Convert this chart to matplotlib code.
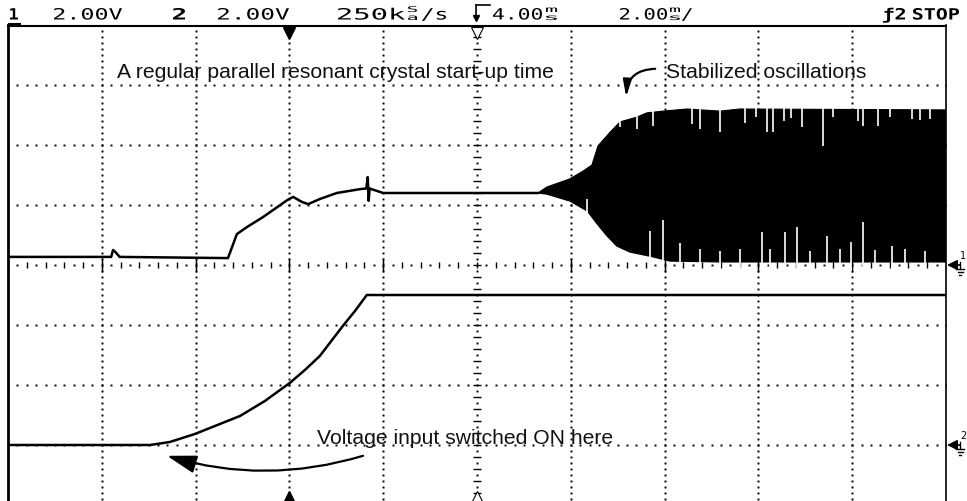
import numpy as np
import matplotlib.pyplot as plt
from matplotlib.lines import Line2D
from matplotlib.textpath import TextPath
from matplotlib.patches import PathPatch
from matplotlib.font_manager import FontProperties
from matplotlib.transforms import Affine2D, IdentityTransform

# channel 1 (crystal output), time in ms, volts above ch1 ground
ch1_t = [-6, -3.80, -3.76, -3.72, -3.62, -1.31, -1.12, -0.90, -0.56, -0.03,
         0.08, 0.27, 0.40, 0.65, 1.01, 1.51, 1.64, 1.67, 1.69, 1.71, 2.0, 5.3]
ch1_v = [0.27, 0.27, 0.50, 0.45, 0.27, 0.23, 1.03, 1.27, 1.60, 2.18,
         2.27, 2.10, 2.03, 2.20, 2.40, 2.53, 2.55, 2.93, 2.14, 2.55, 2.40, 2.40]

# oscillation envelope of channel 1
osc_top_t = [5.3, 5.49, 5.98, 6.26, 6.45, 6.58, 6.84, 7.05, 7.41, 7.62, 7.97, 8.48, 9.18, 9.61, 14.0]
osc_top_v = [2.40, 2.60, 2.87, 3.13, 3.33, 3.97, 4.43, 4.77, 4.93, 5.07, 5.13, 5.20, 5.13, 5.20, 5.17]
osc_bot_t = [5.3, 5.49, 5.98, 6.35, 6.56, 6.77, 6.98, 7.26, 7.75, 8.11, 9.18, 14.0]
osc_bot_v = [2.40, 2.36, 2.13, 1.80, 1.37, 0.97, 0.63, 0.43, 0.27, 0.13, 0.10, 0.10]

# white gaps reaching into the envelope
top_spike_t = [7.05, 7.41, 7.75, 8.58, 8.75, 9.18, 9.71, 9.95, 10.18, 10.31, 10.55, 10.70,
               10.93, 11.38, 11.60, 12.12, 12.23, 12.55, 12.80, 13.27, 13.45, 13.66]
top_spike_v = [4.60, 4.53, 4.63, 4.70, 4.53, 4.43, 4.73, 4.95, 4.43, 4.43, 4.80, 4.90,
               4.60, 3.97, 4.95, 4.80, 4.63, 4.63, 4.95, 4.87, 4.83, 4.87]
bot_spike_t = [6.35, 7.69, 7.97, 8.33, 8.75, 9.18, 9.61, 10.08, 10.25, 10.57, 10.82,
               11.10, 11.46, 11.74, 11.97, 12.23, 12.49, 12.85, 13.13, 13.55]
bot_spike_v = [2.20, 1.13, 1.50, 0.73, 0.53, 0.47, 0.53, 1.10, 0.53, 1.10, 1.27,
               0.47, 0.97, 0.53, 0.77, 1.43, 0.50, 0.63, 0.53, 0.47]

# channel 2 (supply voltage), volts above ch2 ground
ch2_t = [-6, -2.97, -2.55, -2.01, -1.05, -0.52, 0.01, 0.33, 0.65, 1.14, 1.40, 1.65, 14]
ch2_v = [0, 0, 0.10, 0.37, 0.97, 1.47, 2.07, 2.50, 2.97, 3.97, 4.47, 5.00, 5.00]

VDIV = 2.0      # volts / div
CH2_OFF = -3.0  # ch2 ground in divisions

W, H = 967, 502
fig = plt.figure(figsize=(W / 100, H / 100), dpi=100)
ax = fig.add_axes([8 / W, -4 / H, 938 / W, 480 / H])
ax.set_xlim(-6, 14)
ax.set_ylim(-4, 4)
ax.axis('off')


def fp(x, y):
    # image pixel -> figure fraction
    return x / W, 1 - y / H


# dotted graticule
xs = np.arange(-6, 14.01, 0.2)
for gy in [-3, -2, -1, 1, 2, 3]:
    ax.plot(xs, np.full_like(xs, gy), ls='none', marker='s', ms=1.4, mew=0, color='k')
ys = np.arange(-4, 4.01, 0.1)
for gx in [-4, -2, 0, 2, 6, 8, 10, 12]:
    ax.plot(np.full_like(ys, gx), ys, ls='none', marker='s', ms=1.4, mew=0, color='k')

# centre axes with ticks
tk = np.arange(-6, 14.01, 0.4)
ax.vlines(tk, -0.045, 0.045, color='k', lw=1)
ax.plot(tk[:-1] + 0.2, np.zeros(len(tk) - 1), ls='none', marker='s', ms=1.4, mew=0, color='k')
ax.vlines([-4, -2, 0, 2, 6, 8, 10, 12], -0.12, 0.12, color='k', lw=1)
tv = np.arange(-4, 4.01, 0.2)
ax.hlines(tv, 4 - 0.09, 4 + 0.09, color='k', lw=1)
ax.plot(np.full(len(tv) - 1, 4), tv[:-1] + 0.1, ls='none', marker='s', ms=1.4, mew=0, color='k')

# border
ax.plot([-6, -6], [-4, 4], color='k', lw=2, clip_on=False)
ax.plot([14, 14], [-4, 4], color='k', lw=1.2, clip_on=False)
ax.plot([-6, 14], [3.98, 3.98], color='k', lw=1.5, clip_on=False)

# trigger / delay markers
ax.plot(0, 3.86, marker='v', ms=8, color='k', clip_on=False)
ax.plot(0, -3.86, marker='^', ms=8, color='k', clip_on=False)
ax.plot(4, 3.86, marker='v', ms=8, mfc='white', mec='k', mew=0.8, clip_on=False)
ax.plot(4, -3.86, marker='^', ms=8, mfc='white', mec='k', mew=0.8, clip_on=False)

# traces
ax.plot(ch1_t, np.array(ch1_v) / VDIV, color='k', lw=1.8)
ax.fill(np.r_[osc_top_t, osc_bot_t[::-1]],
        np.r_[osc_top_v, osc_bot_v[::-1]] / VDIV, color='k', lw=0.8)
ax.vlines(top_spike_t, np.array(top_spike_v) / VDIV, 5.5 / VDIV, color='white', lw=1.2)
ax.vlines(bot_spike_t, -0.2 / VDIV, np.array(bot_spike_v) / VDIV, color='white', lw=1.2)
ax.plot(ch2_t, np.array(ch2_v) / VDIV + CH2_OFF, color='k', lw=1.8)

# annotations
tf = dict(family='Liberation Sans', fontsize=15.2, color='#111111', va='center')
fig.text(*fp(335, 73), 'A regular parallel resonant crystal start-up time', ha='center', **tf)
fig.text(*fp(766, 72), 'Stabilized oscillations', ha='center', **tf)
fig.text(*fp(465, 439), 'Voltage input switched ON here', ha='center', **tf)

ax.annotate('', xy=(7.18, 2.80), xytext=(7.80, 3.27),
            arrowprops=dict(arrowstyle='-|>,head_length=1.0,head_width=0.25', mutation_scale=10,
                            connectionstyle='arc3,rad=0.45', color='k', lw=1.6,
                            shrinkA=0, shrinkB=0))
ax.annotate('', xy=(-2.61, -3.18), xytext=(1.57, -3.18),
            arrowprops=dict(arrowstyle='-|>,head_length=1.8,head_width=0.55', mutation_scale=10,
                            connectionstyle='arc3,rad=-0.15', color='k', lw=1.6,
                            shrinkA=0, shrinkB=0))


# header line: wide mono glyphs like the scope's pixel font
def htext(s, x0, x1, base=20.5, size=15.5, bold=False):
    prop = FontProperties(family='DejaVu Sans Mono', weight='bold' if bold else 'normal')
    tp = TextPath((0, 0), s, size=size, prop=prop)
    ext = tp.get_extents()
    sx = (x1 - x0) / ext.width
    tr = Affine2D().translate(-ext.x0, 0).scale(sx, 1).translate(x0, H - base)
    fig.add_artist(PathPatch(tr.transform_path(tp), fc='k', lw=0, transform=IdentityTransform()))


def stacked(a, b, x0, x1):
    htext(a, x0, x1, base=13, size=8)
    htext(b, x0, x1, base=21, size=8)


htext('1', 10, 18, bold=True)
fig.add_artist(Line2D([9 / W, 20 / W], [1 - 24.5 / H] * 2, color='k', lw=1.5))
htext('2.00V', 54, 122)
htext('2', 173, 185, bold=True)
htext('2.00V', 218, 289)
htext('250k', 338, 405)
stacked('S', 'a', 408, 417)
htext('/s', 422, 446)
fig.add_artist(Line2D([476 / W, 476 / W], [1 - 6 / H, 1 - 18 / H], color='k', lw=1.2))
fig.add_artist(Line2D([476 / W, 490 / W], [1 - 6 / H] * 2, color='k', lw=1.2))
fig.add_artist(Line2D([476 / W], [1 - 19 / H], marker='v', ms=4, color='k'))
htext('4.00', 493, 542)
stacked('m', 's', 546, 557)
htext('2.00', 620, 667)
stacked('m', 's', 670, 680)
htext('/', 682, 692)
htext('ƒ2', 883, 905, bold=True)
htext('STOP', 913, 959, bold=True)

# channel ground markers on the right edge
for gy, lab in [(266, '1'), (446, '2')]:
    ax.annotate('', xy=(947, H - gy), xytext=(960, H - gy), xycoords='figure pixels',
                arrowprops=dict(arrowstyle='-|>,head_length=0.6,head_width=0.3', mutation_scale=10,
                                color='k', lw=1.2, shrinkA=0, shrinkB=0))
    fig.text(*fp(963, gy - 10), lab, family='DejaVu Sans', fontsize=7, ha='center', va='center')
    fig.add_artist(Line2D([960 / W, 960 / W], [1 - (gy - 3) / H, 1 - (gy + 3) / H], color='k', lw=1))
    for dy, hw in [(4, 4), (7, 2.5), (10, 1)]:
        fig.add_artist(Line2D([(960 - hw) / W, (960 + hw) / W], [1 - (gy + dy) / H] * 2, color='k', lw=1))

fig.savefig('out.png', dpi=100)
